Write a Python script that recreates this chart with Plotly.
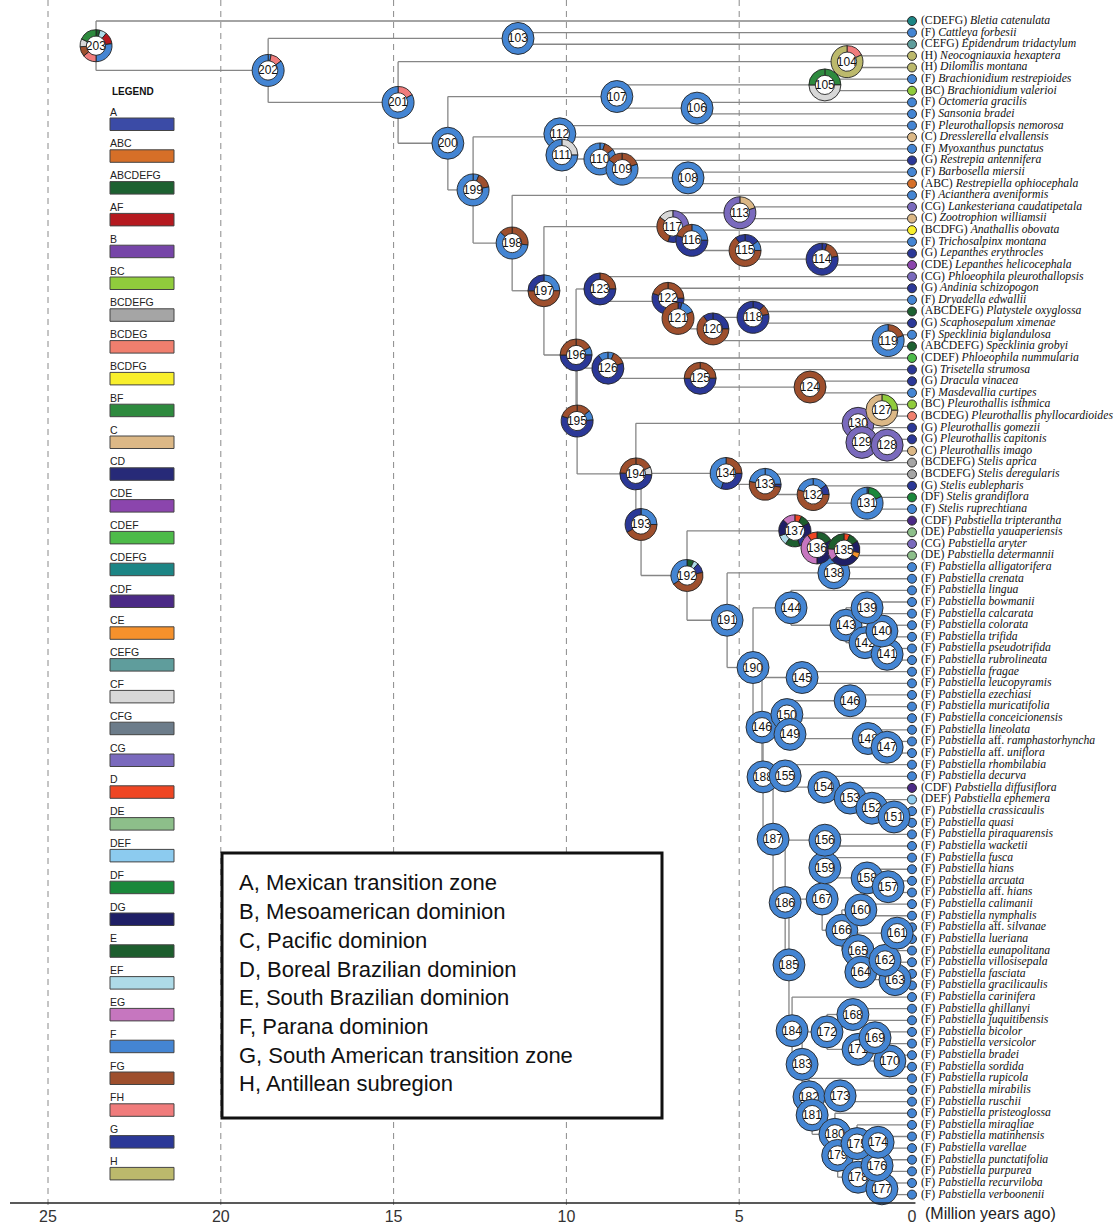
import plotly.graph_objects as go

# ---------------------------------------------------------------- data
TIP_AREAS = [
    "CDEFG", "F", "CEFG", "H", "H", "F", "BC", "F", "F", "F",
    "C", "F", "G", "F", "ABC", "F", "CG", "C", "BCDFG", "F",
    "G", "CDE", "CG", "G", "F", "ABCDEFG", "G", "F", "ABCDEFG", "CDEF",
    "G", "G", "F", "BC", "BCDEG", "G", "G", "C", "BCDEFG", "BCDEFG",
    "G", "DF", "F", "CDF", "DE", "CG", "DE", "F", "F", "F",
    "F", "F", "F", "F", "F", "F", "F", "F", "F", "F",
    "F", "F", "F", "F", "F", "F", "CDF", "DEF", "F", "F",
    "F", "F", "F", "F", "F", "F", "F", "F", "F", "F",
    "F", "F", "F", "F", "F", "F", "F", "F", "F", "F",
    "F", "F", "F", "F", "F", "F", "F", "F", "F", "F",
    "F", "F",
]

TIP_NAMES = [
    "Bletia catenulata", "Cattleya forbesii", "Epidendrum tridactylum",
    "Neocogniauxia hexaptera", "Dilomilis montana", "Brachionidium restrepioides",
    "Brachionidium valerioi", "Octomeria gracilis", "Sansonia bradei",
    "Pleurothallopsis nemorosa", "Dresslerella elvallensis", "Myoxanthus punctatus",
    "Restrepia antennifera", "Barbosella miersii", "Restrepiella ophiocephala",
    "Acianthera aveniformis", "Lankesteriana caudatipetala", "Zootrophion williamsii",
    "Anathallis obovata", "Trichosalpinx montana", "Lepanthes erythrocles",
    "Lepanthes helicocephala", "Phloeophila pleurothallopsis", "Andinia schizopogon",
    "Dryadella edwallii", "Platystele oxyglossa", "Scaphosepalum ximenae",
    "Specklinia biglandulosa", "Specklinia grobyi", "Phloeophila nummularia",
    "Trisetella strumosa", "Dracula vinacea", "Masdevallia curtipes",
    "Pleurothallis isthmica", "Pleurothallis phyllocardioides", "Pleurothallis gomezii",
    "Pleurothallis capitonis", "Pleurothallis imago", "Stelis aprica",
    "Stelis deregularis", "Stelis eublepharis", "Stelis grandiflora",
    "Stelis ruprechtiana", "Pabstiella tripterantha", "Pabstiella yauaperiensis",
    "Pabstiella aryter", "Pabstiella determannii", "Pabstiella alligatorifera",
    "Pabstiella crenata", "Pabstiella lingua", "Pabstiella bowmanii",
    "Pabstiella calcarata", "Pabstiella colorata", "Pabstiella trifida",
    "Pabstiella pseudotrifida", "Pabstiella rubrolineata", "Pabstiella fragae",
    "Pabstiella leucopyramis", "Pabstiella ezechiasi", "Pabstiella muricatifolia",
    "Pabstiella conceicionensis", "Pabstiella lineolata", "Pabstiella aff. ramphastorhyncha",
    "Pabstiella aff. uniflora", "Pabstiella rhombilabia", "Pabstiella decurva",
    "Pabstiella diffusiflora", "Pabstiella ephemera", "Pabstiella crassicaulis",
    "Pabstiella quasi", "Pabstiella piraquarensis", "Pabstiella wacketii",
    "Pabstiella fusca", "Pabstiella hians", "Pabstiella arcuata",
    "Pabstiella aff. hians", "Pabstiella calimanii", "Pabstiella nymphalis",
    "Pabstiella aff. silvanae", "Pabstiella lueriana", "Pabstiella eunapolitana",
    "Pabstiella villosisepala", "Pabstiella fasciata", "Pabstiella gracilicaulis",
    "Pabstiella carinifera", "Pabstiella ghillanyi", "Pabstiella juquitibensis",
    "Pabstiella bicolor", "Pabstiella versicolor", "Pabstiella bradei",
    "Pabstiella sordida", "Pabstiella rupicola", "Pabstiella mirabilis",
    "Pabstiella ruschii", "Pabstiella pristeoglossa", "Pabstiella miragliae",
    "Pabstiella matinhensis", "Pabstiella varellae", "Pabstiella punctatifolia",
    "Pabstiella purpurea", "Pabstiella recurviloba", "Pabstiella verboonenii",
]

# internal node -> (child, child); numbers <= 102 are tips (1-based)
NODE_CHILDREN = {
    103: (2, 3), 104: (4, 5), 105: (6, 7), 106: (8, 9), 107: (105, 106),
    108: (14, 15), 109: (13, 108), 110: (12, 109), 111: (11, 110), 112: (10, 111),
    113: (17, 18), 114: (21, 22), 115: (20, 114), 116: (19, 115), 117: (113, 116),
    118: (26, 27), 119: (28, 29), 120: (118, 119), 121: (25, 120), 122: (24, 121),
    123: (23, 122), 124: (32, 33), 125: (31, 124), 126: (30, 125), 127: (34, 35),
    128: (37, 38), 129: (36, 128), 130: (127, 129), 131: (42, 43), 132: (41, 131),
    133: (40, 132), 134: (39, 133), 135: (46, 47), 136: (45, 135), 137: (44, 136),
    138: (48, 49), 139: (51, 52), 140: (53, 54), 141: (55, 56), 142: (140, 141),
    143: (139, 142), 144: (50, 143), 145: (57, 58), 146: (59, 60), 147: (63, 64),
    148: (62, 147), 149: (61, 148), 150: (146, 149), 151: (69, 70), 152: (68, 151),
    153: (67, 152), 154: (66, 153), 155: (65, 154), 156: (71, 72), 157: (75, 76),
    158: (74, 157), 159: (73, 158), 160: (77, 78), 161: (79, 80), 162: (81, 82),
    163: (83, 84), 164: (162, 163), 165: (161, 164), 166: (160, 165), 167: (159, 166),
    168: (86, 87), 169: (88, 89), 170: (90, 91), 171: (169, 170), 172: (168, 171),
    173: (93, 94), 174: (97, 98), 175: (96, 174), 176: (99, 100), 177: (101, 102),
    178: (176, 177), 179: (175, 178), 180: (95, 179), 181: (173, 180), 182: (92, 181),
    183: (172, 182), 184: (85, 183), 185: (167, 184), 186: (156, 185), 187: (155, 186),
    188: (150, 187), 189: (145, 188), 190: (144, 189), 191: (138, 190), 192: (137, 191),
    193: (134, 192), 194: (130, 193), 195: (126, 194), 196: (123, 195), 197: (117, 196),
    198: (16, 197), 199: (112, 198), 200: (107, 199), 201: (104, 200), 202: (103, 201),
    203: (1, 202),
}

# node ages, million years ago
NODE_AGES = {
    103: 11.40, 104: 1.88, 105: 2.52, 106: 6.22, 107: 8.54, 108: 6.48, 109: 8.39,
    110: 9.03, 111: 10.13, 112: 10.19, 113: 4.98, 114: 2.60, 115: 4.83, 116: 6.37,
    117: 6.92, 118: 4.60, 119: 0.69, 120: 5.76, 121: 6.77, 122: 7.06, 123: 9.03,
    124: 2.95, 125: 6.13, 126: 8.80, 127: 0.87, 128: 0.72, 129: 1.45, 130: 1.56,
    131: 1.30, 132: 2.86, 133: 4.25, 134: 5.38, 135: 1.97, 136: 2.75, 137: 3.39,
    138: 2.26, 139: 1.30, 140: 0.87, 141: 0.72, 142: 1.36, 143: 1.91, 144: 3.50,
    145: 3.18, 146: 1.79, 147: 0.72, 148: 1.27, 149: 3.53, 150: 3.62, 151: 0.52,
    152: 1.16, 153: 1.79, 154: 2.55, 155: 3.67, 156: 2.52, 157: 0.69, 158: 1.30,
    159: 2.52, 160: 1.48, 161: 0.43, 162: 0.78, 163: 0.49, 164: 1.48, 165: 1.56,
    166: 2.03, 167: 2.60, 168: 1.71, 169: 1.07, 170: 0.64, 171: 1.56, 172: 2.46,
    173: 2.08, 174: 0.98, 175: 1.59, 176: 1.01, 177: 0.87, 178: 1.56, 179: 2.15,
    180: 2.23, 181: 2.89, 182: 2.98, 183: 3.18, 184: 3.47, 185: 3.56, 186: 3.67,
    187: 4.02, 188: 4.31, 189: 4.34, 190: 4.60, 191: 5.35, 192: 6.51, 193: 7.84,
    194: 7.99, 195: 9.69, 196: 9.72, 197: 10.65, 198: 11.57, 199: 12.70, 200: 13.43,
    201: 14.87, 202: 18.63, 203: 23.61,
}

# ancestral range probabilities, slices clockwise from 12 o'clock (unlisted nodes: F only)
NODE_PIES = {
    203: [("E", 0.04), ("EF", 0.07), ("AF", 0.12), ("F", 0.27), ("FH", 0.14),
          ("FG", 0.10), ("CF", 0.08), ("BF", 0.18)],
    202: [("F", 0.03), ("FH", 0.12), ("F", 0.85)],
    201: [("FH", 0.17), ("F", 0.83)],
    199: [("F", 0.06), ("FG", 0.16), ("F", 0.78)],
    198: [("FG", 0.27), ("F", 0.60), ("FG", 0.13)],
    197: [("F", 0.25), ("FG", 0.50), ("G", 0.25)],
    196: [("FG", 0.17), ("F", 0.08), ("G", 0.50), ("FG", 0.25)],
    195: [("FG", 0.14), ("F", 0.10), ("G", 0.56), ("FG", 0.20)],
    194: [("FG", 0.18), ("CF", 0.08), ("G", 0.50), ("FG", 0.24)],
    193: [("F", 0.25), ("FG", 0.42), ("G", 0.33)],
    192: [("E", 0.07), ("EF", 0.05), ("G", 0.10), ("FG", 0.44), ("F", 0.34)],
    137: [("D", 0.07), ("E", 0.10), ("DG", 0.18), ("G", 0.10), ("E", 0.15),
          ("EF", 0.10), ("DG", 0.17), ("EG", 0.13)],
    136: [("E", 0.17), ("DG", 0.33), ("EG", 0.40), ("D", 0.10)],
    135: [("D", 0.06), ("E", 0.10), ("DG", 0.12), ("CE", 0.06), ("DG", 0.30),
          ("EG", 0.12), ("E", 0.24)],
    134: [("FG", 0.25), ("G", 0.30), ("F", 0.45)],
    133: [("F", 0.25), ("G", 0.03), ("FG", 0.50), ("F", 0.22)],
    132: [("F", 0.15), ("G", 0.10), ("FG", 0.55), ("F", 0.20)],
    131: [("F", 0.02), ("DF", 0.16), ("F", 0.82)],
    130: [("CG", 1.0)],
    129: [("CG", 1.0)],
    128: [("CG", 1.0)],
    127: [("BC", 0.25), ("C", 0.75)],
    126: [("F", 0.06), ("FG", 0.14), ("G", 0.70), ("F", 0.10)],
    125: [("FG", 0.25), ("G", 0.50), ("FG", 0.25)],
    124: [("FG", 1.0)],
    123: [("FG", 0.25), ("G", 0.75)],
    122: [("FG", 0.25), ("G", 0.55), ("FG", 0.20)],
    121: [("G", 0.04), ("F", 0.14), ("FG", 0.82)],
    120: [("G", 0.25), ("FG", 0.65), ("G", 0.10)],
    119: [("FG", 0.20), ("F", 0.80)],
    118: [("G", 0.12), ("FG", 0.10), ("G", 0.78)],
    117: [("CG", 0.30), ("G", 0.25), ("FG", 0.30), ("CF", 0.15)],
    116: [("F", 0.25), ("G", 0.55), ("FG", 0.20)],
    115: [("G", 0.15), ("F", 0.10), ("FG", 0.65), ("G", 0.10)],
    114: [("G", 0.05), ("FG", 0.17), ("G", 0.78)],
    113: [("C", 0.20), ("CG", 0.80)],
    111: [("CF", 0.25), ("F", 0.75)],
    110: [("F", 0.05), ("FG", 0.10), ("F", 0.85)],
    109: [("FG", 0.20), ("F", 0.65), ("FG", 0.15)],
    105: [("BF", 0.25), ("CF", 0.50), ("BF", 0.25)],
    104: [("FH", 0.18), ("H", 0.82)],
}

NODE_LABELS = {189: "146"}

LEGEND_AREAS = [
    "A", "ABC", "ABCDEFG", "AF", "B", "BC", "BCDEFG", "BCDEG", "BCDFG", "BF",
    "C", "CD", "CDE", "CDEF", "CDEFG", "CDF", "CE", "CEFG", "CF", "CFG",
    "CG", "D", "DE", "DEF", "DF", "DG", "E", "EF", "EG", "F",
    "FG", "FH", "G", "H",
]
AREA_COLORS = {
    "A": "#3b4ba6", "ABC": "#d66f28", "ABCDEFG": "#1d6131", "AF": "#b5191f",
    "B": "#7645a8", "BC": "#90cc3c", "BCDEFG": "#a5a5a5", "BCDEG": "#f07f6e",
    "BCDFG": "#f8ef2c", "BF": "#2e8a3e", "C": "#dcb886", "CD": "#272a78",
    "CDE": "#8b45ad", "CDEF": "#4dbb49", "CDEFG": "#1c8585", "CDF": "#4b2a86",
    "CE": "#f5912c", "CEFG": "#5f9d9c", "CF": "#d8d8d8", "CFG": "#6c7c8a",
    "CG": "#7a6abd", "D": "#ef4623", "DE": "#8dbf8a", "DEF": "#8ccbef",
    "DF": "#1a883b", "DG": "#1f1f66", "E": "#1d5e2e", "EF": "#aedbe8",
    "EG": "#c676bf", "F": "#4485d3", "FG": "#9e4f2d", "FH": "#f07c7c",
    "G": "#2b3897", "H": "#bcb96c",
}

AREA_DESCRIPTIONS = [
    "A, Mexican transition zone",
    "B, Mesoamerican dominion",
    "C, Pacific dominion",
    "D, Boreal Brazilian dominion",
    "E, South Brazilian dominion",
    "F, Parana dominion",
    "G, South American transition zone",
    "H, Antillean subregion",
]

TIME_TICKS = [25, 20, 15, 10, 5, 0]

# vertical nudges (pixels) so crowded donuts do not hide one another
PIE_NUDGE_PX = {111: 7, 112: -3, 121: 4, 122: -3, 129: 6, 136: 7, 149: 6,
                162: 4, 164: 4, 175: 10}

# ---------------------------------------------------------------- layout geometry
W, H = 1117, 1226
MB = 21
PW, PH = W, H - MB
X_RANGE = [26.389, -5.932]
Y_RANGE = [102.894, -0.807]


def px_x(age):
    return (age - X_RANGE[0]) / (X_RANGE[1] - X_RANGE[0]) * PW


def px_y(v):
    return (v - Y_RANGE[1]) / (Y_RANGE[0] - Y_RANGE[1]) * PH


def paper_x(px):
    return px / PW


def paper_y(py):
    return 1 - py / PH


# ---------------------------------------------------------------- tree geometry
node_y = {}


def get_y(n):
    if n <= len(TIP_NAMES):
        return float(n)
    if n not in node_y:
        a, b = NODE_CHILDREN[n]
        node_y[n] = (get_y(a) + get_y(b)) / 2
    return node_y[n]


def get_age(n):
    return 0.0 if n <= len(TIP_NAMES) else NODE_AGES[n]


for n in NODE_CHILDREN:
    get_y(n)

bx, by = [], []
for n, (a, b) in NODE_CHILDREN.items():
    t = NODE_AGES[n]
    bx += [t, t, None]
    by += [get_y(a), get_y(b), None]
    for c in (a, b):
        bx += [t, get_age(c), None]
        by += [get_y(c), get_y(c), None]

fig = go.Figure()

fig.add_trace(go.Scatter(
    x=bx, y=by, mode="lines", line=dict(color="#868686", width=1.3),
    hoverinfo="skip", showlegend=False,
))


def fmt_name(area, name):
    parts = []
    for w in name.split(" "):
        parts.append(w if w == "aff." else "<i>" + w + "</i>")
    return "\u2009(" + area + ") " + " ".join(parts)


tip_idx = list(range(1, len(TIP_NAMES) + 1))
fig.add_trace(go.Scatter(
    x=[0.0] * len(tip_idx), y=tip_idx, mode="markers+text",
    marker=dict(size=9, color=[AREA_COLORS[a] for a in TIP_AREAS],
                line=dict(color="#2a2a2a", width=1)),
    text=[fmt_name(a, nm) for a, nm in zip(TIP_AREAS, TIP_NAMES)],
    textposition="middle right",
    textfont=dict(family="Liberation Serif", size=11.7, color="#111"),
    cliponaxis=False, hoverinfo="text", showlegend=False,
))

# ancestral range donuts (drawn from the root down so younger nodes sit on top)
R = 16
for n in sorted(NODE_CHILDREN, reverse=True):
    cx = px_x(NODE_AGES[n])
    cy = px_y(get_y(n)) + PIE_NUDGE_PX.get(n, 0)
    dom = dict(
        x=[max(0, paper_x(cx - R)), min(1, paper_x(cx + R))],
        y=[max(0, paper_y(cy + R)), min(1, paper_y(cy - R))],
    )
    fig.add_trace(go.Pie(
        values=[1], labels=["n%d" % n], domain=dom, sort=False,
        marker=dict(colors=["white"], line=dict(width=0)),
        textinfo="text", text=[NODE_LABELS.get(n, str(n))], textposition="inside",
        insidetextorientation="horizontal",
        insidetextfont=dict(family="Liberation Sans", size=12, color="#111"),
        hoverinfo="skip", showlegend=False,
    ))
    slices = NODE_PIES.get(n, [("F", 1.0)])
    fig.add_trace(go.Pie(
        values=[f for _, f in slices],
        labels=["%d-%d" % (n, k) for k in range(len(slices))],
        hovertext=[s for s, _ in slices], hoverinfo="text+percent",
        domain=dom, hole=0.6, sort=False, direction="clockwise", rotation=0,
        marker=dict(colors=[AREA_COLORS[s] for s, _ in slices],
                    line=dict(color="#222", width=0.9)),
        textinfo="none", showlegend=False,
    ))

shapes = []
# dashed time guides
for t in TIME_TICKS[:-1]:
    shapes.append(dict(type="line", xref="x", yref="paper", x0=t, x1=t, y0=0, y1=1,
                       line=dict(color="#8a8a8a", width=1, dash="6px,5px"), layer="below"))
# time axis base line
shapes.append(dict(type="line", xref="x", yref="paper", x0=26.1, x1=-0.1,
                   y0=paper_y(1203), y1=paper_y(1203), line=dict(color="#222", width=1.5)))

annotations = []
# area legend
annotations.append(dict(text="<b>LEGEND</b>", xref="paper", yref="paper",
                        x=paper_x(110), y=paper_y(92), xanchor="left", yanchor="middle",
                        showarrow=False, font=dict(family="Liberation Sans", size=10, color="#111")))
for k, area in enumerate(LEGEND_AREAS):
    top = 118 + 31.8 * k
    shapes.append(dict(type="rect", xref="paper", yref="paper",
                       x0=paper_x(110), x1=paper_x(174), y0=paper_y(top + 12.5), y1=paper_y(top),
                       fillcolor=AREA_COLORS[area], line=dict(color="#444", width=1)))
    annotations.append(dict(text=area, xref="paper", yref="paper",
                            x=paper_x(108), y=paper_y(top - 6.5), xanchor="left", yanchor="middle",
                            showarrow=False,
                            font=dict(family="Liberation Sans", size=10.5, color="#222")))

# area description box
shapes.append(dict(type="rect", xref="paper", yref="paper",
                   x0=paper_x(222), x1=paper_x(662), y0=paper_y(1118), y1=paper_y(853),
                   fillcolor="white", line=dict(color="#111", width=3)))
for k, desc in enumerate(AREA_DESCRIPTIONS):
    annotations.append(dict(text=desc, xref="paper", yref="paper",
                            x=paper_x(237), y=paper_y(883 + 28.7 * k), xanchor="left",
                            yanchor="middle", showarrow=False,
                            font=dict(family="Liberation Sans", size=22, color="#111")))

annotations.append(dict(text="(Million years ago)", xref="paper", yref="paper",
                        x=paper_x(923), y=paper_y(1213), xanchor="left", yanchor="middle",
                        showarrow=False, font=dict(family="Liberation Sans", size=16, color="#222")))

fig.update_layout(
    width=W, height=H,
    margin=dict(l=0, r=0, t=0, b=MB),
    paper_bgcolor="white", plot_bgcolor="white",
    showlegend=False,
    shapes=shapes, annotations=annotations,
    xaxis=dict(range=X_RANGE, tickvals=TIME_TICKS, ticktext=[str(t) for t in TIME_TICKS],
               showgrid=False, zeroline=False, showline=False, ticks="",
               tickfont=dict(family="Liberation Sans", size=16, color="#333"), fixedrange=True),
    yaxis=dict(range=Y_RANGE, visible=False, fixedrange=True),
)

fig.write_html("out.html")
